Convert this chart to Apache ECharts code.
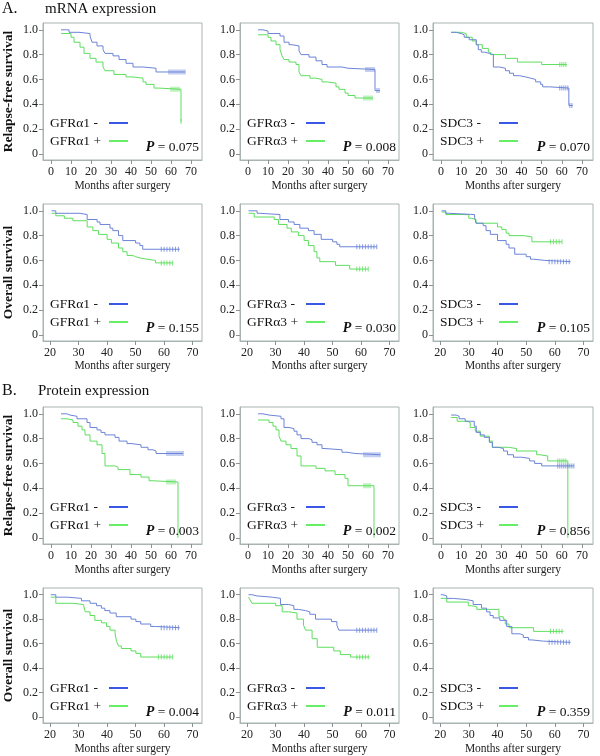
<!DOCTYPE html>
<html><head><meta charset="utf-8">
<script src="https://cdn.jsdelivr.net/npm/echarts@6/dist/echarts.min.js"></script>
<style>html,body{margin:0;padding:0;background:#fff}#c{width:600px;height:756px}</style>
</head><body><div id="c"></div>
<script>
// ---- tick labels ----
const rfsXTicks = [0,10,20,30,40,50,60,70];
const osXTicks = [20,30,40,50,60,70];
const yTicks = [0,0.2,0.4,0.6,0.8,1.0];

// ---- group labels & p-values ----
const markers = ['GFRα1','GFRα3','SDC3'];
const pValues = ['0.075','0.008','0.070','0.155','0.030','0.105','0.003','0.002','0.856','0.004','0.011','0.359'];
const rowYNames = ['Relapse-free survival','Overall survival','Relapse-free survival','Overall survival'];

// ---- A. mRNA, relapse-free ----
const aRfsGfra1Neg = [[5,1.00],[9,0.98],[14,0.97],[19.5,0.95],[20.5,0.90],[23,0.87],[26,0.84],[27,0.81],[31,0.79],[34,0.76],[37.5,0.73],[41,0.70],[46,0.69],[52.5,0.66],[67,0.66]];
const aRfsGfra1NegCens = [59,60,61,62,63,64,65,66,67];
const aRfsGfra1Pos = [[5,0.97],[10,0.94],[11.5,0.90],[14.5,0.86],[16.5,0.81],[19.5,0.77],[22.5,0.74],[26,0.70],[27,0.67],[31.5,0.64],[37.5,0.62],[41,0.61],[46,0.58],[47.5,0.56],[51.5,0.53],[54,0.52],[65,0.26]];
const aRfsGfra1PosCens = [60,61,62,63,64,65];

const aRfsGfra3Neg = [[5,1.00],[7.5,0.99],[10,0.97],[16,0.95],[18,0.90],[20.5,0.88],[22,0.87],[25.5,0.83],[26.5,0.80],[30.5,0.78],[34,0.75],[37,0.72],[39.5,0.70],[47,0.69],[50,0.68],[63.5,0.51],[66,0.51]];
const aRfsGfra3NegCens = [59,60,61,62,63,64.5,65.5];
const aRfsGfra3Pos = [[5,0.96],[10,0.94],[11.5,0.91],[14,0.88],[16,0.84],[17,0.79],[18,0.76],[20.5,0.74],[24,0.72],[25.5,0.66],[26.5,0.63],[31,0.61],[34,0.60],[37,0.58],[39.5,0.57],[44,0.54],[45.5,0.52],[48.5,0.49],[50,0.47],[53.5,0.45],[62.5,0.45]];
const aRfsGfra3PosCens = [58,59,60,61,62];

const aRfsSdc3Neg = [[5,0.98],[7.5,0.97],[10,0.96],[11.5,0.94],[14,0.92],[17.5,0.88],[18.5,0.84],[20,0.82],[21.5,0.81],[24,0.80],[26,0.70],[29,0.69],[32,0.67],[34,0.65],[36,0.63],[39,0.62],[42,0.61],[44.5,0.60],[47,0.58],[49.5,0.56],[50.5,0.54],[54,0.53],[63.5,0.39],[65.5,0.39]];
const aRfsSdc3NegCens = [59,60,61,62,63,64,65];
const aRfsSdc3Pos = [[5,0.98],[10,0.97],[12.5,0.94],[15.5,0.91],[17.5,0.88],[20.5,0.85],[23.5,0.82],[24.5,0.80],[32,0.77],[38,0.74],[50,0.72],[62.5,0.72]];
const aRfsSdc3PosCens = [59,60,61,62];

// ---- A. mRNA, overall ----
const aOsGfra1Neg = [[20.5,1.00],[22,0.98],[30.5,0.97],[33,0.93],[36.5,0.91],[37.5,0.89],[41,0.86],[42,0.84],[44,0.80],[45.5,0.76],[50,0.74],[51.5,0.72],[52.5,0.69],[65.5,0.69]];
const aOsGfra1NegCens = [59,60,61,62,63,64,65];
const aOsGfra1Pos = [[20.5,0.98],[22,0.96],[25,0.94],[28,0.92],[33,0.87],[35,0.84],[37,0.81],[40,0.77],[41.5,0.74],[44,0.70],[45.5,0.67],[47,0.64],[49,0.63],[50,0.62],[51.5,0.61],[54,0.60],[57,0.58],[63,0.58]];
const aOsGfra1PosCens = [59,60,61,62,63];

const aOsGfra3Neg = [[20.5,1.00],[23.5,0.98],[24.5,0.97],[31.5,0.93],[34.5,0.91],[36.5,0.89],[38.5,0.86],[41.5,0.84],[43.5,0.81],[46,0.77],[50,0.75],[51.5,0.73],[52.5,0.71],[65.5,0.71]];
const aOsGfra3NegCens = [58.5,59.5,60.5,61.5,62.5,63.5,64.5,65.5];
const aOsGfra3Pos = [[20.5,0.98],[22.5,0.95],[29.5,0.93],[31,0.89],[34,0.86],[35.5,0.83],[38,0.80],[40,0.76],[41.5,0.72],[43.5,0.67],[44.5,0.62],[45.5,0.59],[51,0.56],[56,0.53],[62.5,0.53]];
const aOsGfra3PosCens = [58.5,59.5,60.5,61.5,62.5];

const aOsSdc3Neg = [[20.5,1.00],[22,0.98],[23,0.97],[32,0.95],[32.5,0.90],[35,0.88],[36,0.84],[37.5,0.81],[40,0.76],[43,0.73],[44,0.70],[46,0.65],[50,0.63],[51.5,0.61],[52.5,0.60],[56.5,0.59],[65.5,0.59]];
const aOsSdc3NegCens = [58,59,60,61,62,63,64,65];
const aOsSdc3Pos = [[20.5,0.99],[22,0.97],[30,0.94],[31,0.93],[32.5,0.90],[40,0.87],[41.5,0.85],[43,0.82],[44,0.80],[49,0.79],[52,0.75],[62.5,0.75]];
const aOsSdc3PosCens = [58.5,59.5,60.5,61.5,62.5];

// ---- B. Protein, relapse-free ----
const bRfsGfra1Neg = [[5,1.00],[8,0.99],[9.5,0.98],[13,0.96],[18,0.93],[19.5,0.89],[23,0.87],[25,0.85],[27,0.83],[32,0.81],[34,0.78],[38,0.76],[40,0.75],[45,0.73],[48.5,0.71],[51,0.70],[52.5,0.68],[66,0.68]];
const bRfsGfra1NegCens = [58,59,60,61,62,63,64,65,66];
const bRfsGfra1Pos = [[5,0.96],[8,0.95],[11,0.93],[13.5,0.90],[15.5,0.87],[17,0.83],[19.5,0.78],[23,0.75],[25.5,0.68],[27,0.58],[32,0.57],[33.5,0.55],[39.5,0.51],[45,0.49],[49,0.46],[51,0.45],[63.5,0.0]];
const bRfsGfra1PosCens = [58,59,60,61,62];

const bRfsGfra3Neg = [[5,1.00],[7.5,0.99],[10.5,0.98],[16.5,0.96],[18,0.89],[20.5,0.88],[23,0.86],[24.5,0.83],[26.5,0.80],[30.5,0.79],[32,0.77],[34.5,0.75],[37,0.72],[38.5,0.71],[47,0.69],[49.5,0.68],[53.5,0.67],[66,0.67]];
const bRfsGfra3NegCens = [58,59,60,61,62,63,64,65,66];
const bRfsGfra3Pos = [[5,0.95],[10.5,0.93],[12.5,0.90],[14,0.87],[15.5,0.82],[16.5,0.78],[19,0.75],[21.5,0.72],[24.5,0.66],[26.5,0.58],[34,0.56],[38.5,0.54],[43.5,0.51],[48.5,0.48],[50,0.42],[63,0.0]];
const bRfsGfra3PosCens = [58,59,60,61];

const bRfsSdc3Neg = [[5,0.99],[7.5,0.98],[9,0.96],[12,0.94],[16.5,0.90],[17.5,0.85],[19.5,0.83],[21.5,0.81],[24,0.77],[25.5,0.73],[28.5,0.72],[31,0.70],[33,0.67],[36,0.65],[40,0.64],[44,0.62],[46.5,0.60],[50,0.58],[66,0.58]];
const bRfsSdc3NegCens = [58,59,60,61,62,63,64,65,66];
const bRfsSdc3Pos = [[5,0.97],[8,0.94],[13,0.93],[14.5,0.89],[17,0.86],[19.5,0.82],[24,0.78],[25.5,0.73],[33.5,0.72],[37.5,0.70],[47.5,0.67],[49,0.66],[53,0.62],[63,0.0]];
const bRfsSdc3PosCens = [58,59,60,61,62];

// ---- B. Protein, overall ----
const bOsGfra1Neg = [[20.2,1.00],[22,0.98],[26,0.97],[31,0.95],[34,0.93],[36.3,0.91],[38,0.89],[39.2,0.87],[41,0.85],[43.2,0.82],[48.4,0.80],[50.1,0.78],[51.8,0.76],[55.3,0.74],[57,0.73],[65.5,0.73]];
const bOsGfra1NegCens = [59,60,61,62,63,64,65];
const bOsGfra1Pos = [[20.2,0.98],[22,0.93],[27.7,0.92],[31.7,0.91],[32.3,0.86],[34,0.83],[35.7,0.79],[38,0.77],[39.8,0.74],[41,0.71],[42.8,0.68],[43.3,0.62],[44,0.58],[45,0.56],[48.4,0.54],[50.1,0.52],[51.8,0.49],[63,0.49]];
const bOsGfra1PosCens = [58,59,60,61,62,63];

const bOsGfra3Neg = [[20.5,1.00],[21.7,0.99],[23.5,0.98],[28.8,0.97],[31.7,0.92],[34.6,0.91],[36.4,0.88],[38,0.87],[40.5,0.86],[42,0.84],[44,0.80],[49.6,0.78],[51.5,0.75],[52.2,0.71],[65.5,0.71]];
const bOsGfra3NegCens = [58.5,59.5,60.5,61.5,62.5,63.5,64.5,65.5];
const bOsGfra3Pos = [[20.5,0.98],[21,0.96],[21.7,0.93],[30,0.91],[32.3,0.86],[34.6,0.85],[37.5,0.80],[39.8,0.75],[40.5,0.71],[42.8,0.64],[44.6,0.57],[50.4,0.54],[52.7,0.51],[56.3,0.49],[63,0.49]];
const bOsGfra3PosCens = [58.5,59.5,60.5,61.5,62.5];

const bOsSdc3Neg = [[20.2,1.00],[21,0.99],[22.3,0.97],[24.6,0.96],[29.2,0.95],[31.5,0.92],[34.4,0.89],[36.2,0.86],[37.4,0.83],[38.5,0.81],[40.8,0.79],[43.2,0.74],[45,0.68],[47.9,0.67],[49,0.65],[50.8,0.63],[52,0.62],[56,0.61],[65.5,0.61]];
const bOsSdc3NegCens = [58,59,60,61,62,63,64,65];
const bOsSdc3Pos = [[20.2,0.97],[22.3,0.94],[29.8,0.91],[31,0.90],[32.8,0.88],[40.5,0.82],[42,0.80],[42.7,0.76],[44,0.73],[52.6,0.70],[63,0.70]];
const bOsSdc3PosCens = [58.5,59.5,60.5,61.5,62.5];

const panelCurves = [
  [aRfsGfra1Neg,aRfsGfra1NegCens,aRfsGfra1Pos,aRfsGfra1PosCens],
  [aRfsGfra3Neg,aRfsGfra3NegCens,aRfsGfra3Pos,aRfsGfra3PosCens],
  [aRfsSdc3Neg,aRfsSdc3NegCens,aRfsSdc3Pos,aRfsSdc3PosCens],
  [aOsGfra1Neg,aOsGfra1NegCens,aOsGfra1Pos,aOsGfra1PosCens],
  [aOsGfra3Neg,aOsGfra3NegCens,aOsGfra3Pos,aOsGfra3PosCens],
  [aOsSdc3Neg,aOsSdc3NegCens,aOsSdc3Pos,aOsSdc3PosCens],
  [bRfsGfra1Neg,bRfsGfra1NegCens,bRfsGfra1Pos,bRfsGfra1PosCens],
  [bRfsGfra3Neg,bRfsGfra3NegCens,bRfsGfra3Pos,bRfsGfra3PosCens],
  [bRfsSdc3Neg,bRfsSdc3NegCens,bRfsSdc3Pos,bRfsSdc3PosCens],
  [bOsGfra1Neg,bOsGfra1NegCens,bOsGfra1Pos,bOsGfra1PosCens],
  [bOsGfra3Neg,bOsGfra3NegCens,bOsGfra3Pos,bOsGfra3PosCens],
  [bOsSdc3Neg,bOsSdc3NegCens,bOsSdc3Pos,bOsSdc3PosCens]
];

// ---- layout (styles) ----
const FONT = 'Liberation Serif';
const colLeft = [43, 240, 433];
const colWidth = [159, 159, 160];
const rowTop = [23, 204, 407, 588];
const boxH = 137;
const xNameGap = [20, 15, 20, 20];
const BORDER = '#a9b4b2';
const CURVE_NEG = '#6c84d8', CURVE_POS = '#5ede5e';
const LEG_NEG = '#3a58e6', LEG_POS = '#66ee66';

function survAt(curve, t) {
  let v = curve[0][1];
  for (const p of curve) { if (p[0] <= t) v = p[1]; }
  return v;
}

const grids = [], xAxes = [], yAxes = [], series = [], legends = [], titles = [];
titles.push({text:'A.', left:2, top:1, padding:0, textStyle:{fontFamily:FONT, fontSize:16, fontWeight:'normal', color:'#111'}});
titles.push({text:'mRNA expression', left:45, top:2, padding:0, textStyle:{fontFamily:FONT, fontSize:15, fontWeight:'normal', color:'#111'}});
titles.push({text:'B.', left:2, top:383, padding:0, textStyle:{fontFamily:FONT, fontSize:16, fontWeight:'normal', color:'#111'}});
titles.push({text:'Protein expression', left:38, top:384, padding:0, textStyle:{fontFamily:FONT, fontSize:15, fontWeight:'normal', color:'#111'}});

for (let i = 0; i < 12; i++) {
  const row = Math.floor(i / 3), col = i % 3;
  const isOS = row % 2 === 1;
  const left = colLeft[col], top = rowTop[row], w = colWidth[col];
  grids.push({left, top, width:w, height:boxH, show:true, borderColor:BORDER, borderWidth:1, backgroundColor:'#fff'});
  const xt = isOS ? osXTicks : rfsXTicks;
  xAxes.push({
    gridIndex:i, type:'value', min: isOS ? 17.5 : -4, max: isOS ? 73.3 : 75.5,
    axisLine:{show:true, onZero:false, lineStyle:{color:BORDER}},
    axisTick:{show:true, length:4, customValues:xt, lineStyle:{color:'#8a9494'}},
    axisLabel:{customValues:xt, fontFamily:FONT, fontSize:12, color:'#222', margin:6},
    splitLine:{show:false},
    name:'Months after surgery', nameLocation:'middle', nameGap:xNameGap[row],
    nameTextStyle:{fontFamily:FONT, fontSize:11.5, color:'#222', verticalAlign:'top'}
  });
  const ya = {
    gridIndex:i, type:'value', min:-0.05, max:1.055,
    axisLine:{show:true, onZero:false, lineStyle:{color:BORDER}},
    axisTick:{show:true, length:4, customValues:yTicks, lineStyle:{color:'#8a9494'}},
    axisLabel:{customValues:yTicks, fontFamily:FONT, fontSize:12, color:'#222', margin:5,
      formatter: v => (v === 0 ? '0' : v.toFixed(1))},
    splitLine:{show:false}
  };
  if (col === 0) {
    ya.name = rowYNames[row]; ya.nameLocation = 'middle'; ya.nameGap = 27;
    ya.nameTextStyle = {fontFamily:FONT, fontSize:13.5, fontWeight:'bold', color:'#111'};
  }
  yAxes.push(ya);

  const [neg, negC, pos, posC] = panelCurves[i];
  const nNeg = markers[col] + ' -', nPos = markers[col] + ' +';
  series.push({type:'line', name:nNeg, xAxisIndex:i, yAxisIndex:i, step:'end', symbol:'none', data:neg,
    lineStyle:{color:CURVE_NEG, width:1}, itemStyle:{color:CURVE_NEG}, z:3});
  series.push({type:'line', name:nPos, xAxisIndex:i, yAxisIndex:i, step:'end', symbol:'none', data:pos,
    lineStyle:{color:CURVE_POS, width:1}, itemStyle:{color:CURVE_POS}, z:2});
  series.push({type:'scatter', name:'cn'+i, xAxisIndex:i, yAxisIndex:i, symbol:'rect', symbolSize:[1,5],
    data:negC.map(t => [t, survAt(neg, t)]), itemStyle:{color:CURVE_NEG}, z:3});
  series.push({type:'scatter', name:'cp'+i, xAxisIndex:i, yAxisIndex:i, symbol:'rect', symbolSize:[1,5],
    data:posC.map(t => [t, survAt(pos, t)]), itemStyle:{color:CURVE_POS}, z:2});

  legends.push({
    left:left + 7, top:top + 92, orient:'vertical', align:'right', padding:0, itemGap:2,
    itemWidth:19, itemHeight:2, icon:'rect', selectedMode:false,
    formatter: name => '{t|' + name + '}',
    textStyle:{fontFamily:FONT, fontSize:13.5, color:'#111', lineHeight:16,
      rich:{t:{width:54, align:'left', fontFamily:FONT, fontSize:13.5, color:'#111', lineHeight:16}}},
    data:[{name:nNeg, itemStyle:{color:LEG_NEG}}, {name:nPos, itemStyle:{color:LEG_POS}}]
  });
  titles.push({
    text:'{p|P} = ' + pValues[i], right: 600 - (left + w - 3), top: top + 117, padding:0,
    textStyle:{fontFamily:FONT, fontSize:13.5, fontWeight:'normal', color:'#111',
      rich:{p:{fontFamily:FONT, fontSize:14, fontStyle:'italic', fontWeight:'bold', color:'#111'}}}
  });
}

const chart = echarts.init(document.getElementById('c'), null, {renderer:'canvas'});
chart.setOption({
  animation:false, backgroundColor:'#fff',
  title:titles, grid:grids, xAxis:xAxes, yAxis:yAxes, legend:legends, series
});
</script>
</body></html>
